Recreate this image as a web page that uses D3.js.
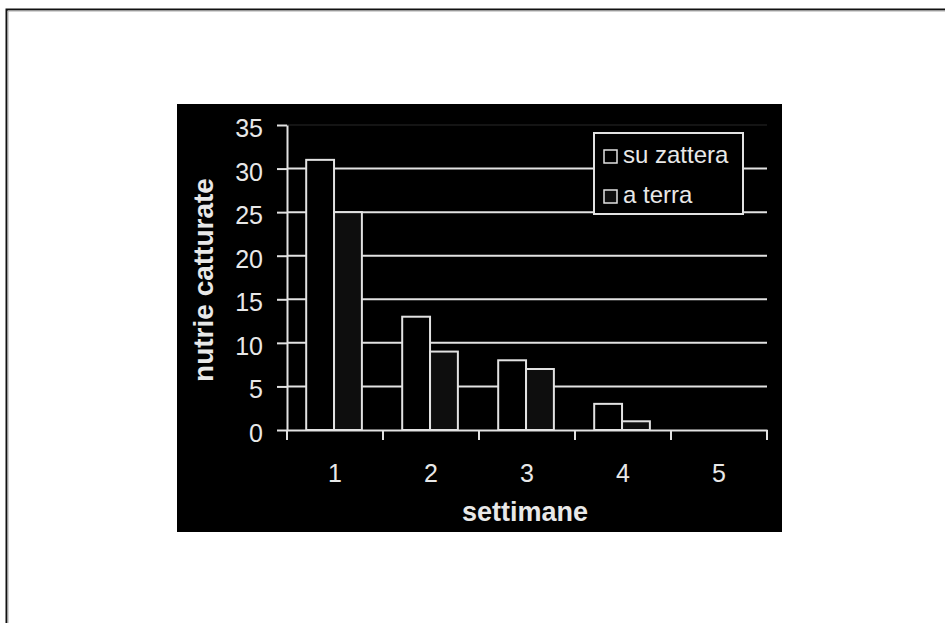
<!DOCTYPE html>
<html>
<head>
<meta charset="utf-8">
<script src="https://cdn.jsdelivr.net/npm/d3@7"></script>
<style>
  body { margin: 0; background: #fff; }
  svg text { font-family: "Liberation Sans", Arial, sans-serif; fill: #e8e8e8; }
</style>
</head>
<body>
<div id="chart"></div>
<script>
// settimane e nutrie catturate
var weeks = ["1", "2", "3", "4", "5"];
var series = ["su zattera", "a terra"];
var suZattera = [31, 13, 8, 3, 0];
var aTerra = [25, 9, 7, 1, 0];
var yTicks = [0, 5, 10, 15, 20, 25, 30, 35];

var W = 945, H = 623;
var line = "#e2e2e2";

var svg = d3.select("#chart").append("svg")
  .attr("width", W)
  .attr("height", H);

// bordo della pagina
svg.append("path")
  .attr("d", "M6.5," + H + "V9.5H" + W)
  .attr("fill", "none")
  .attr("stroke", "#111")
  .attr("stroke-width", 2);
svg.append("path")
  .attr("d", "M8," + H + "V11H" + W)
  .attr("fill", "none")
  .attr("stroke", "#aaa")
  .attr("stroke-width", 1);

// pannello nero
svg.append("rect")
  .attr("x", 177).attr("y", 104)
  .attr("width", 605).attr("height", 428)
  .attr("fill", "#000");

// NB: "top" is taken by window.top
var pLeft = 287, pRight = 767, pTop = 125, pBottom = 430;

var x = d3.scaleBand().domain(weeks).range([pLeft, pRight]).padding(0);
var bw = x.bandwidth();
var xs = d3.scaleBand().domain(series).range([bw * 0.2, bw * 0.78]);
var y = d3.scaleLinear().domain([0, 35]).range([pBottom, pTop]);

// griglia
svg.append("g").selectAll("line")
  .data(yTicks.filter(function(d){ return d > 0; }))
  .enter().append("line")
  .attr("x1", pLeft).attr("x2", pRight)
  .attr("y1", function(d){ return y(d); })
  .attr("y2", function(d){ return y(d); })
  .attr("stroke", function(d){ return d == 35 ? "#141414" : line; })
  .attr("stroke-width", 2);

// barre
var rows = [];
for (var i = 0; i < weeks.length; i++) {
  rows.push({w: weeks[i], s: series[0], v: suZattera[i]});
  rows.push({w: weeks[i], s: series[1], v: aTerra[i]});
}
svg.append("g").selectAll("rect")
  .data(rows.filter(function(d){ return d.v > 0; }))
  .enter().append("rect")
  .attr("x", function(d){ return x(d.w) + xs(d.s); })
  .attr("y", function(d){ return y(d.v); })
  .attr("width", xs.bandwidth())
  .attr("height", function(d){ return pBottom - y(d.v); })
  .attr("fill", function(d){ return d.s == series[0] ? "#000" : "#0e0e0e"; })
  .attr("stroke", line)
  .attr("stroke-width", 2);

// asse y
var yAxis = svg.append("g")
  .attr("transform", "translate(" + pLeft + ",0)")
  .call(d3.axisLeft(y).tickValues(yTicks).tickSize(10).tickSizeOuter(0).tickPadding(14));
yAxis.selectAll("path, line").attr("stroke", line).attr("stroke-width", 2);
yAxis.selectAll("text")
  .attr("font-size", 25)
  .attr("dy", "0.46em")
  .style("font-family", "'Liberation Sans', Arial, sans-serif")
  .attr("fill", "#e8e8e8");

// asse x
var xAxis = svg.append("g")
  .attr("transform", "translate(0," + pBottom + ")")
  .call(d3.axisBottom(x).tickSize(0).tickPadding(44));
xAxis.select("path").attr("stroke", line).attr("stroke-width", 2);
xAxis.selectAll("text")
  .attr("font-size", 25)
  .attr("dy", "0.3em")
  .style("font-family", "'Liberation Sans', Arial, sans-serif")
  .attr("fill", "#e8e8e8");
var edges = weeks.map(function(d){ return x(d); }).concat([pRight]);
xAxis.selectAll(".edge")
  .data(edges)
  .enter().append("line")
  .attr("x1", function(d){ return d; })
  .attr("x2", function(d){ return d; })
  .attr("y1", 0).attr("y2", 10)
  .attr("stroke", line)
  .attr("stroke-width", 2);

// titoli assi
svg.append("text")
  .attr("transform", "translate(213,280) rotate(-90)")
  .attr("text-anchor", "middle")
  .attr("font-size", 28)
  .attr("font-weight", "bold")
  .text("nutrie catturate");
svg.append("text")
  .attr("x", 525).attr("y", 521)
  .attr("text-anchor", "middle")
  .attr("font-size", 27)
  .attr("font-weight", "bold")
  .text("settimane");

// legenda
var lg = svg.append("g");
lg.append("rect")
  .attr("x", 594).attr("y", 133)
  .attr("width", 149).attr("height", 81)
  .attr("fill", "#000")
  .attr("stroke", line)
  .attr("stroke-width", 2);
series.forEach(function(s, i){
  var yy = 163 + i * 40;
  lg.append("rect")
    .attr("x", 604).attr("y", yy - 13)
    .attr("width", 13).attr("height", 13)
    .attr("fill", i == 0 ? "#000" : "#0e0e0e")
    .attr("stroke", line)
    .attr("stroke-width", 1.5);
  lg.append("text")
    .attr("x", 623).attr("y", yy)
    .attr("font-size", 24)
    .text(s);
});
</script>
</body>
</html>
